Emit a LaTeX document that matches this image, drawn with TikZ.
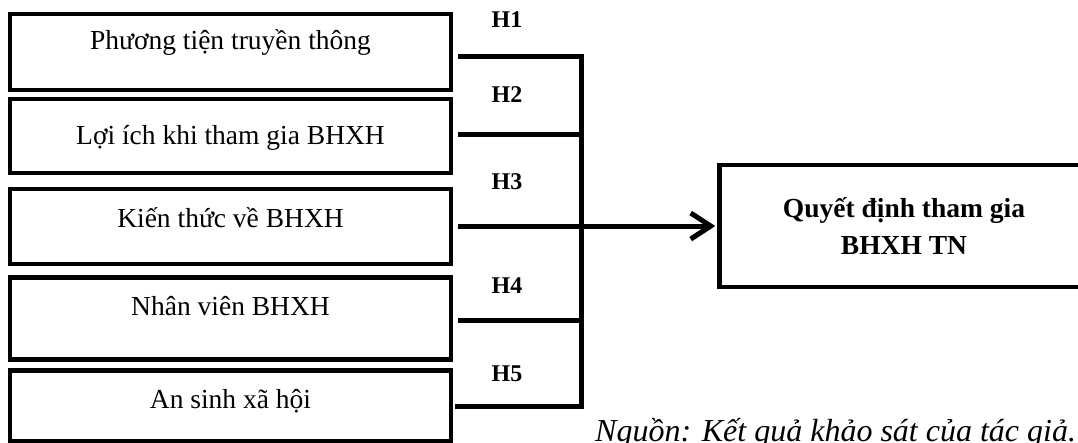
\documentclass[tikz,border=0pt]{standalone}
\usepackage{fontspec}
\setmainfont{Liberation Serif}
\usetikzlibrary{arrows.meta}

\tikzset{
  % left-hand factor boxes: text height/depth place the baseline inside the box
  factor/.style 2 args={draw, line width=4.5pt, minimum width=441pt,
    minimum height=0pt, inner ysep=0pt, text height=#1, text depth=#2,
    font=\fontsize{27.5}{32}\selectfont},
  outcome/.style={draw, line width=4.5pt, minimum width=369pt,
    minimum height=122pt, align=center,
    font=\bfseries\fontsize{27.5}{37}\selectfont},
  hyp/.style={anchor=base, inner sep=0pt, font=\bfseries\fontsize{24}{28}\selectfont},
  link/.style={line width=5pt,
    preaction={draw=black!30, transform canvas={xshift=1pt, yshift=-2.5pt}}},
}

\begin{document}
\begin{tikzpicture}[x=1pt, y=-1pt]
\useasboundingbox (0,0) rectangle (1078,442);

% factor boxes
\node[factor={35pt}{41pt}]   (b1) at (230.5,52)    {Phương tiện truyền thông};
\node[factor={45pt}{29pt}]   (b2) at (230.5,136)   {Lợi ích khi tham gia BHXH};
\node[factor={38pt}{37pt}]   (b3) at (230.5,226.5) {Kiến thức về BHXH};
\node[factor={37.5pt}{44.5pt}] (b4) at (230.5,318.5) {Nhân viên BHXH};
\node[factor={37.5pt}{33pt}] (b5) at (230.5,405.75) {An sinh xã hội};

% outcome box
\node[outcome] (q) at (904,226) {Quyết định tham gia\\BHXH TN};

% junction points on the collecting bar
\coordinate (j1) at (581,56);
\coordinate (j2) at (581,134);
\coordinate (j4) at (581,320);
\coordinate (j5) at (581,406);

% hypothesis labels
\node[hyp] (h1) at (507,27.5)  {H1};
\node[hyp] (h2) at (507,102)   {H2};
\node[hyp] (h3) at (507,189)   {H3};
\node[hyp] (h4) at (507,293.5) {H4};
\node[hyp] (h5) at (507,381)   {H5};

% connectors
\draw[link, shorten <=5pt] (b2.east |- j2) -- (j2);
\draw[link, shorten <=5pt] (b4.east |- j4) -- (j4);
\draw[link, line join=miter, shorten <=5pt, shorten >=2pt]
  (b1.east |- j1) -- (j1) -- (j5) -- (b5.east |- j5);
\draw[link, shorten <=5pt, shorten >=2pt,
  -{Straight Barb[length=20pt, width=26pt]}] (b3.east |- q.west) -- (q.west);

% source note
\node[anchor=base west, inner sep=0pt, font=\itshape\fontsize{32}{38}\selectfont]
  (src) at (595,441) {Nguồn: Kết quả khảo sát của tác giả.};
\end{tikzpicture}
\end{document}
